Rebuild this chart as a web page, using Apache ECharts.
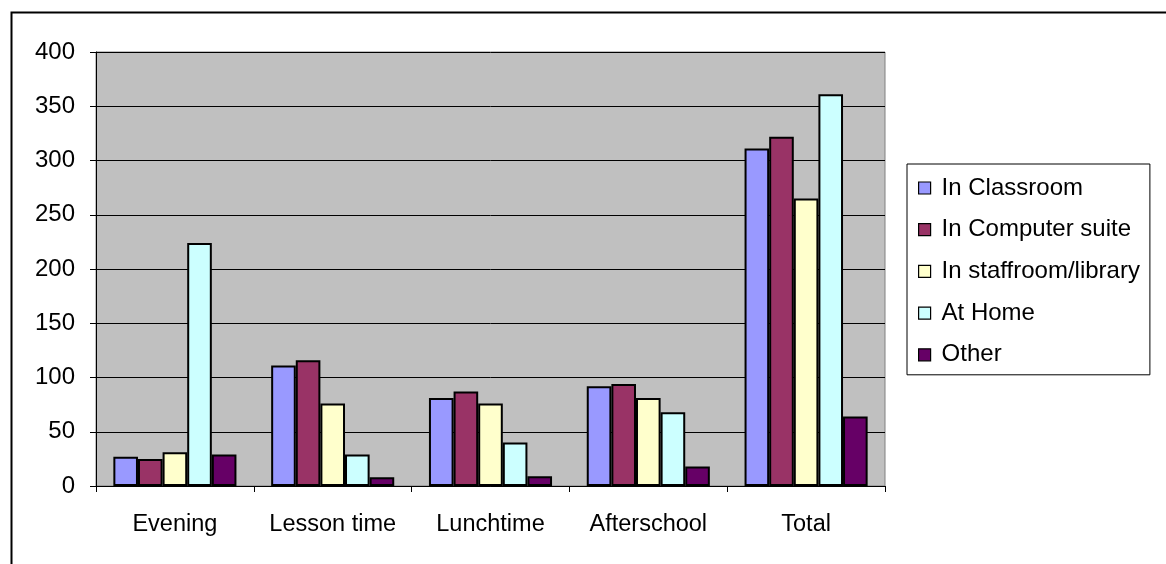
<!DOCTYPE html>
<html>
<head>
<meta charset="utf-8">
<script src="https://cdn.jsdelivr.net/npm/echarts@6/dist/echarts.min.js"></script>
<style>
  html, body { margin: 0; padding: 0; background: #ffffff; }
  #chart { width: 1166px; height: 564px; }
</style>
</head>
<body>
<div id="chart"></div>
<script>
// Where the computer was used, by time of day
const categories = ['Evening', 'Lesson time', 'Lunchtime', 'Afterschool', 'Total'];
const inClassroom = [27, 111, 81, 92, 311];
const inComputerSuite = [25, 116, 87, 94, 322];
const inStaffroomLibrary = [31, 76, 76, 81, 265];
const atHome = [224, 29, 40, 68, 361];
const other = [29, 8, 9, 18, 64];
const seriesNames = ['In Classroom', 'In Computer suite', 'In staffroom/library', 'At Home', 'Other'];
const seriesColors = ['#9999FF', '#993366', '#FFFFCC', '#CCFFFF', '#660066'];
const seriesValues = [inClassroom, inComputerSuite, inStaffroomLibrary, atHome, other];

const FONT = '"Liberation Sans", Arial, sans-serif';

const chart = echarts.init(document.getElementById('chart'), null, { renderer: 'canvas' });

chart.setOption({
  animation: false,
  backgroundColor: '#ffffff',
  textStyle: { fontFamily: FONT, color: '#000' },
  graphic: [{
    type: 'rect',
    left: 9, top: 10,
    shape: { width: 1200, height: 600 },
    style: { fill: 'none', stroke: '#000', lineWidth: 2 },
    z: 0
  }],
  grid: {
    left: 96, top: 52, right: 281, bottom: 78,
    show: true,
    backgroundColor: '#C0C0C0',
    borderColor: '#808080',
    borderWidth: 1
  },
  legend: {
    orient: 'vertical',
    left: 907, top: 164,
    padding: [12, 10, 8, 11],
    itemWidth: 12, itemHeight: 12,
    itemGap: 17.7,
    icon: 'rect',
    borderColor: '#000', borderWidth: 1,
    backgroundColor: '#fff',
    textStyle: { fontFamily: FONT, fontSize: 24, lineHeight: 24, color: '#000', padding: [0, 0, 0, 6] },
    itemStyle: { borderColor: '#000', borderWidth: 1.2 },
    data: seriesNames
  },
  xAxis: {
    type: 'category',
    data: categories,
    axisLine: { lineStyle: { color: '#000', width: 1 } },
    axisTick: { show: true, length: 6, lineStyle: { color: '#000' } },
    axisLabel: { color: '#000', fontSize: 23.5, fontFamily: FONT, margin: 27, interval: 0 },
    splitLine: { show: false }
  },
  yAxis: {
    type: 'value',
    min: 0, max: 400, interval: 50,
    axisLine: { show: true, lineStyle: { color: '#000', width: 1 } },
    axisTick: { show: true, length: 6, lineStyle: { color: '#000' } },
    axisLabel: { color: '#000', fontSize: 24, fontFamily: FONT, margin: 21 },
    splitLine: { show: true, lineStyle: { color: '#000', width: 1 } }
  },
  series: seriesNames.map((name, i) => ({
    name,
    type: 'bar',
    data: seriesValues[i],
    barGap: '0%',
    barCategoryGap: '22%',
    itemStyle: { color: seriesColors[i], borderColor: '#000', borderWidth: 2 }
  }))
});
</script>
</body>
</html>
